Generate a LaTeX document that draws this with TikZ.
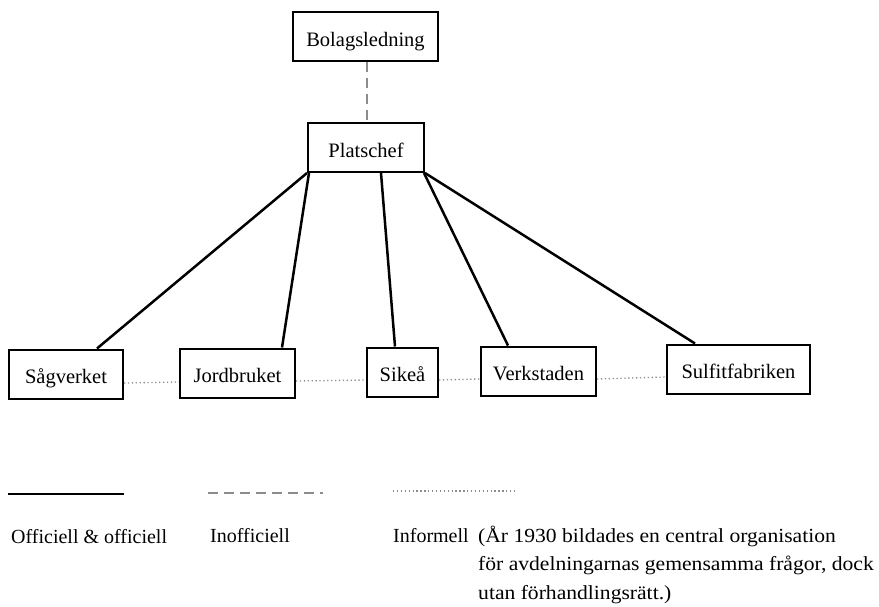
\documentclass[tikz,border=0pt]{standalone}
\usepackage{fontspec}
\setmainfont{Liberation Serif}
\newfontfamily\notefont{Liberation Serif}[FakeStretch=1.08]
\usepackage{tikz}
\usepackage{xcolor}
\usetikzlibrary{positioning}
\definecolor{linkgray}{gray}{0.55}

\begin{document}
\begin{tikzpicture}[x=1pt, y=-1pt,
    unit/.style={draw, line width=2pt, inner sep=0pt, minimum height=49pt,
        text height=19pt, text depth=0pt, font=\fontsize{20.5}{24}\selectfont},
    official/.style={line width=2.5pt},
    unofficial/.style={draw=linkgray, line width=1.6pt, dash pattern=on 10pt off 6pt},
    informal/.style={draw=linkgray, line width=1.3pt, dash pattern=on 1.3pt off 2.6pt},
    legendtext/.style={anchor=base west, inner sep=0pt, font=\fontsize{20}{28.5}\selectfont}]
                \useasboundingbox (0,0) rectangle (879,606);

                \node [unit, minimum width=145pt] (bolag) at (365.5,36.5) {Bolagsledning};
                \node [unit, minimum width=116pt] (plats) at (366,147.5) {Platschef};

                \node [unit, minimum width=114pt] (sag) at (66,374) {Sågverket};
                \node [unit, minimum width=115pt] (jord) at (237.5,373) {Jordbruket};
                \node [unit, minimum width=71pt] (sike) at (402.5,372) {Sikeå};
                \node [unit, minimum width=115pt] (verk) at (538.5,371) {Verkstaden};
                \node [unit, minimum width=143pt] (sulfit) at (738.5,369) {Sulfitfabriken};

                \draw[unofficial] ([xshift=1.5pt]bolag.south) -- ([xshift=1pt]plats.north);

                \draw[official] (plats.south west) -- ([xshift=31pt]sag.north);
                \draw[official] ([xshift=2pt]plats.south west) -- ([xshift=44.5pt]jord.north);
                \draw[official] ([xshift=15pt]plats.south) -- ([xshift=-7.5pt]sike.north);
                \draw[official] ([xshift=-1pt]plats.south east) -- ([xshift=-30.5pt]verk.north);
                \draw[official] (plats.south east) -- ([xshift=-43.5pt]sulfit.north);

                \draw[informal] ([yshift=-9pt]sag.east) -- ([yshift=-9pt]jord.west);
                \draw[informal] ([yshift=-8pt]jord.east) -- ([yshift=-8pt]sike.west);
                \draw[informal] ([yshift=-8pt]sike.east) -- ([yshift=-8pt]verk.west);
                \draw[informal] ([yshift=-8pt]verk.east) -- ([yshift=-8pt]sulfit.west);

                \coordinate (offA) at (8,494);
                \coordinate (offB) at (124,494);
                \coordinate (inoffA) at (208,493);
                \coordinate (inoffB) at (323,493);
                \coordinate (infA) at (393,491);
                \coordinate (infB) at (515,491);
                \draw[official, line width=2.2pt] (offA) -- (offB);
                \draw[unofficial, line width=1.4pt] (inoffA) -- (inoffB);
                \draw[informal, line width=1.1pt] (infA) -- (infB);

                \node [legendtext] (offtxt) at (11,543) {Officiell \& officiell};
                \node [legendtext] (inofftxt) at (210,542) {Inofficiell};
                \node [legendtext] (inftxt) at (393,542) {Informell};
                \node [legendtext, align=left, font=\notefont\fontsize{20}{28.5}\selectfont] (note) at (478,599)
                    {(År 1930 bildades en central organisation\\för avdelningarnas gemensamma frågor, dock\\utan förhandlingsrätt.)};
            \end{tikzpicture}
\end{document}
